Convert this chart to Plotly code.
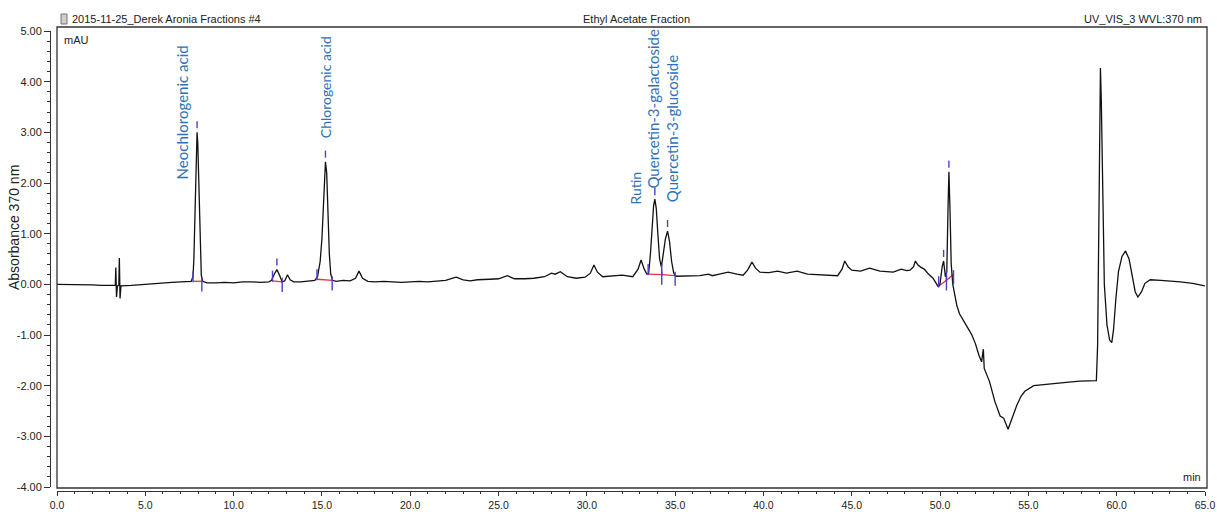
import plotly.graph_objects as go

# ---------------- data ----------------
time_min = [0.0, 0.5, 1.0, 1.5, 2.0, 2.5, 3.0, 3.3, 3.33, 3.37, 3.42, 3.5, 3.53, 3.57, 3.62, 3.8, 4.2, 4.6, 5.0, 5.5,
            6.0, 6.5, 7.0, 7.4, 7.6, 7.7, 7.75, 7.8, 7.85, 7.9, 7.93, 7.97, 8.02, 8.07, 8.12, 8.17, 8.25, 8.5, 9.0, 9.5,
            10.0, 10.5, 11.0, 11.5, 12.0, 12.15, 12.3, 12.45, 12.6, 12.75, 12.9, 13.05, 13.2, 13.4, 13.8, 14.2, 14.6, 14.75, 14.9, 15.0,
            15.1, 15.2, 15.27, 15.35, 15.42, 15.5, 15.6, 15.8, 16.2, 16.6, 16.9, 17.1, 17.3, 17.6, 18.0, 18.5, 19.0, 19.5, 20.0, 20.5,
            21.0, 21.5, 22.0, 22.6, 23.0, 23.4, 23.8, 24.5, 25.0, 25.5, 25.9, 26.5, 27.0, 27.6, 28.0, 28.2, 28.5, 28.9, 29.4, 29.9,
            30.2, 30.4, 30.6, 30.9, 31.5, 32.0, 32.6, 32.9, 33.07, 33.25, 33.4, 33.5, 33.6, 33.7, 33.78, 33.85, 33.93, 34.02, 34.12, 34.22,
            34.32, 34.45, 34.57, 34.68, 34.8, 34.92, 35.05, 35.5, 36.0, 36.4, 36.9, 37.1, 37.5, 38.0, 38.5, 38.85, 39.1, 39.35, 39.55, 39.8,
            40.3, 40.8, 41.3, 41.9, 42.5, 43.0, 43.6, 44.2, 44.45, 44.6, 44.8, 45.0, 45.5, 46.0, 46.6, 47.0, 47.35, 47.8, 48.1, 48.3,
            48.5, 48.6, 48.75, 48.9, 49.1, 49.3, 49.6, 49.9, 50.0, 50.12, 50.2, 50.3, 50.38, 50.45, 50.5, 50.56, 50.63, 50.72, 50.8, 50.95,
            51.1, 51.35, 51.6, 51.8, 52.0, 52.2, 52.35, 52.45, 52.5, 52.8, 53.1, 53.4, 53.6, 53.85, 54.05, 54.35, 54.6, 54.8, 55.3, 56.0,
            57.0, 57.9, 58.5, 58.85, 58.92, 58.98, 59.03, 59.08, 59.13, 59.2, 59.3, 59.45, 59.6, 59.72, 59.82, 59.95, 60.1, 60.3, 60.5, 60.7,
            60.9, 61.05, 61.2, 61.4, 61.6, 61.9, 62.5, 63.0, 63.6, 64.3, 65.0]
absorbance = [0.00, 0.00, -0.01, 0.00, -0.01, -0.02, -0.02, -0.02, 0.33, -0.25, -0.03, -0.02, 0.52, -0.28, -0.03, -0.03, -0.02, -0.01, 0.00, 0.02,
              0.04, 0.04, 0.05, 0.05, 0.06, 0.15, 0.5, 1.2, 2.1, 2.8, 3.0, 2.8, 2.0, 1.1, 0.5, 0.18, 0.06, 0.03, 0.03, 0.04,
              0.03, 0.05, 0.05, 0.04, 0.05, 0.08, 0.2, 0.29, 0.18, 0.05, 0.07, 0.19, 0.09, 0.05, 0.05, 0.06, 0.08, 0.15, 0.45, 0.9,
              1.7, 2.42, 2.2, 1.3, 0.6, 0.2, 0.08, 0.06, 0.08, 0.07, 0.12, 0.26, 0.12, 0.06, 0.05, 0.06, 0.05, 0.04, 0.05, 0.06,
              0.05, 0.07, 0.08, 0.14, 0.09, 0.07, 0.09, 0.10, 0.11, 0.17, 0.11, 0.11, 0.12, 0.15, 0.22, 0.2, 0.25, 0.15, 0.12, 0.14,
              0.22, 0.38, 0.24, 0.15, 0.16, 0.18, 0.15, 0.3, 0.48, 0.3, 0.2, 0.22, 0.6, 1.2, 1.55, 1.68, 1.5, 1.0, 0.5, 0.34,
              0.55, 0.9, 1.05, 0.85, 0.45, 0.22, 0.16, 0.16, 0.17, 0.17, 0.2, 0.17, 0.2, 0.24, 0.2, 0.18, 0.28, 0.44, 0.32, 0.24,
              0.23, 0.26, 0.22, 0.26, 0.2, 0.19, 0.18, 0.17, 0.3, 0.46, 0.34, 0.28, 0.26, 0.32, 0.26, 0.25, 0.24, 0.3, 0.27, 0.28,
              0.35, 0.46, 0.38, 0.34, 0.3, 0.22, 0.12, -0.05, 0.02, 0.35, 0.46, 0.15, 0.25, 1.5, 2.22, 1.5, 0.4, 0.0, -0.15, -0.42,
              -0.58, -0.72, -0.88, -1.0, -1.17, -1.4, -1.53, -1.28, -1.66, -1.92, -2.31, -2.6, -2.64, -2.86, -2.68, -2.38, -2.2, -2.11, -2.0, -1.97,
              -1.94, -1.91, -1.9, -1.9, -1.2, 0.5, 2.8, 4.27, 3.6, 1.8, 0.0, -0.8, -1.1, -1.15, -0.9, -0.3, 0.25, 0.55, 0.66, 0.5,
              0.1, -0.15, -0.25, -0.15, 0.02, 0.09, 0.08, 0.07, 0.05, 0.02, -0.03]

# integrated peaks (start / end of integration, baseline levels, apex)
int_start = [7.70, 12.20, 14.72, 33.47, 34.24, 49.92, 50.36]
int_end = [8.20, 12.75, 15.58, 34.24, 35.00, 50.36, 50.76]
base_start = [0.06, 0.07, 0.10, 0.20, 0.19, -0.04, 0.08]
base_end = [0.06, 0.05, 0.08, 0.19, 0.17, 0.08, 0.20]
apex_t = [7.93, 12.45, 15.20, 33.85, 34.57, 50.20, 50.50]
apex_v = [3.00, 0.29, 2.42, 1.68, 1.05, 0.46, 2.22]

# peak names
label_text = ["Neochlorogenic acid", "Chlorogenic acid", "Rutin",
              "Quercetin-3-galactoside", "Quercetin-3-glucoside"]
label_t = [7.93, 15.20, 33.07, 33.85, 34.57]
label_v = [3.00, 2.42, 0.48, 1.68, 1.05]

x_ticks = [0, 5, 10, 15, 20, 25, 30, 35, 40, 45, 50, 55, 60, 65]
y_ticks = [5, 4, 3, 2, 1, 0, -1, -2, -3, -4]

header_left = "2015-11-25_Derek Aronia Fractions #4"
header_mid = "Ethyl Acetate Fraction"
header_right = "UV_VIS_3 WVL:370 nm"
y_title = "Absorbance 370 nm"

# ---------------- layout geometry (pixels) ----------------
W, H = 1217, 512
ML, MR, MT, MB = 40, 10, 31, 10
PW, PH = W - ML - MR, H - MT - MB


def px(xp):
    return (xp - ML) / PW


def py(yp):
    return (H - MB - yp) / PH


BLUE_TXT = "#2f72b8"
MARK = "#4a3fd0"
RED = "#e8323c"
INK = "#222222"

fig = go.Figure()

# integration baselines (red)
bx, by = [], []
for s, e, b0, b1 in zip(int_start, int_end, base_start, base_end):
    bx += [s, e, None]
    by += [b0, b1, None]
fig.add_trace(go.Scatter(x=bx, y=by, mode="lines", line=dict(color=RED, width=1.3),
                         hoverinfo="skip", showlegend=False))

# chromatogram
fig.add_trace(go.Scatter(x=time_min, y=absorbance, mode="lines",
                         line=dict(color="#111111", width=1.3), showlegend=False))

# peak delimiters & apex markers (blue)
mx, my = [], []
for s, e, b0, b1 in zip(int_start, int_end, base_start, base_end):
    mx += [s, s, None, e, e, None]
    my += [b0 - 0.02, b0 + 0.2, None, b1 - 0.2, b1 + 0.08, None]
for t, v in zip(apex_t, apex_v):
    mx += [t, t, None]
    my += [v + 0.08, v + 0.22, None]
fig.add_trace(go.Scatter(x=mx, y=my, mode="lines", line=dict(color=MARK, width=1.4),
                         hoverinfo="skip", showlegend=False))

# label offsets (pixels) relative to apex, and per-label font size
label_shift = [(-15, -49), (0, 22), (-6, 53), (-2, 9), (4, 27)]
label_size = [15, 14, 14, 15, 15]
for txt, t, v, (dx, dy), fs in zip(label_text, label_t, label_v, label_shift, label_size):
    fig.add_annotation(x=t, y=v, xref="x", yref="y", text=txt, textangle=-90,
                       showarrow=False, xanchor="center", yanchor="bottom",
                       xshift=dx, yshift=dy,
                       font=dict(family="Lato", size=fs, color=BLUE_TXT))

# headers
hfont = dict(family="Liberation Sans", size=11, color=INK)
fig.add_annotation(x=px(70), y=py(19), xref="paper", yref="paper", text=header_left,
                   showarrow=False, xanchor="left", yanchor="middle", font=hfont)
fig.add_annotation(x=px(637), y=py(19), xref="paper", yref="paper", text=header_mid,
                   showarrow=False, xanchor="center", yanchor="middle", font=hfont)
fig.add_annotation(x=px(1204), y=py(19), xref="paper", yref="paper", text=header_right,
                   showarrow=False, xanchor="right", yanchor="middle", font=hfont)
fig.add_annotation(x=px(62), y=py(40), xref="paper", yref="paper", text="mAU",
                   showarrow=False, xanchor="left", yanchor="middle", font=hfont)
fig.add_annotation(x=px(1203), y=py(477), xref="paper", yref="paper", text="min",
                   showarrow=False, xanchor="right", yanchor="middle", font=hfont)
fig.add_annotation(x=px(14), y=py(228), xref="paper", yref="paper", text=y_title,
                   textangle=-90, showarrow=False, xanchor="center", yanchor="middle",
                   font=dict(family="Liberation Sans", size=14, color=INK))

# small document icon before the header
fig.add_shape(type="rect", xref="paper", yref="paper",
              x0=px(61), x1=px(67), y0=py(24), y1=py(14),
              line=dict(color="#777777", width=1), fillcolor="#cfcfcf")

# frame box
fig.add_shape(type="rect", xref="paper", yref="paper",
              x0=px(57), x1=px(1207), y0=py(488), y1=py(27),
              line=dict(color="#333333", width=1.3), fillcolor="rgba(0,0,0,0)", layer="above")

fig.update_layout(
    width=W, height=H,
    margin=dict(l=ML, r=MR, t=MT, b=MB, autoexpand=False),
    paper_bgcolor="white", plot_bgcolor="white",
    showlegend=False,
    xaxis=dict(range=[0, 65], domain=[px(57), px(1205)], anchor="free", position=py(491),
               automargin=False,
               tickmode="array", tickvals=x_ticks, ticktext=[f"{v:.1f}" for v in x_ticks],
               showline=True, linecolor="#333333", linewidth=1,
               ticks="outside", ticklen=4, tickcolor="#333333", tickwidth=1,
               minor=dict(dtick=1, ticks="outside", ticklen=2, tickcolor="#333333"),
               showgrid=False, zeroline=False,
               tickfont=dict(family="Liberation Sans", size=10.5, color=INK)),
    yaxis=dict(range=[-4, 5], domain=[py(487), py(31)], anchor="free", position=px(50),
               automargin=False,
               tickmode="array", tickvals=y_ticks, ticktext=[f"{v:.2f}" for v in y_ticks],
               showline=True, linecolor="#333333", linewidth=1,
               ticks="outside", ticklen=6, tickcolor="#333333", tickwidth=1,
               minor=dict(dtick=0.2, ticks="outside", ticklen=3, tickcolor="#333333"),
               showgrid=False, zeroline=False,
               tickfont=dict(family="Liberation Sans", size=11, color=INK)),
)

fig.write_html("out.html")
